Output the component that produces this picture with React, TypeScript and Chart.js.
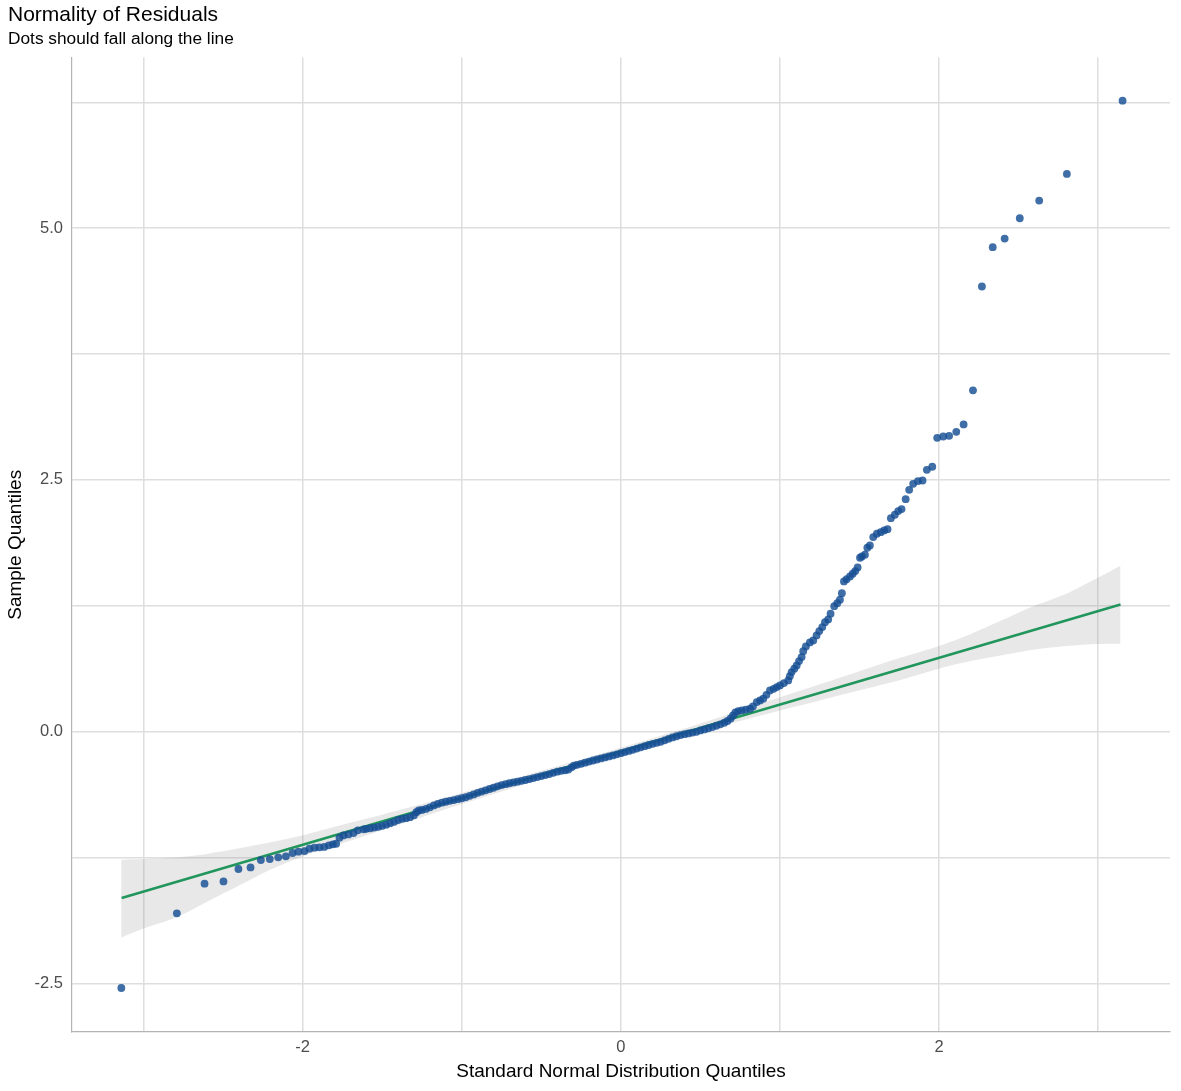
import React, { useEffect, useRef } from "react";
import { Chart, registerables } from "chart.js";

Chart.register(...registerables);

// theoretical quantiles (x) and sample quantiles (y) of the residuals
const sampleX = [
  -3.139, -2.79, -2.616, -2.497, -2.403, -2.327, -2.262, -2.206, -2.153, -2.105,
  -2.063, -2.026, -1.988, -1.957, -1.925, -1.894, -1.864, -1.835, -1.81, -1.789,
  -1.768, -1.743, -1.712, -1.68, -1.653, -1.617, -1.6, -1.575, -1.55, -1.525,
  -1.5, -1.475, -1.45, -1.425, -1.4, -1.375, -1.35, -1.325, -1.3, -1.285,
  -1.27, -1.25, -1.225, -1.2, -1.175, -1.15, -1.125, -1.1, -1.075, -1.05,
  -1.025, -1.0, -0.975, -0.95, -0.925, -0.9, -0.875, -0.85, -0.825, -0.8,
  -0.775, -0.75, -0.725, -0.7, -0.675, -0.65, -0.625, -0.6, -0.575, -0.55,
  -0.525, -0.5, -0.475, -0.45, -0.425, -0.4, -0.375, -0.35, -0.33, -0.31,
  -0.295, -0.275, -0.25, -0.225, -0.2, -0.175, -0.15, -0.125, -0.1, -0.075,
  -0.05, -0.025, 0.0, 0.025, 0.05, 0.075, 0.1, 0.125, 0.15, 0.175,
  0.2, 0.225, 0.25, 0.275, 0.3, 0.325, 0.35, 0.375, 0.4, 0.425,
  0.45, 0.475, 0.5, 0.525, 0.55, 0.575, 0.6, 0.625, 0.65, 0.67,
  0.69, 0.705, 0.72, 0.738, 0.76, 0.785, 0.812, 0.83, 0.854, 0.875,
  0.895, 0.915, 0.937, 0.96, 0.98, 1.0, 1.025, 1.052, 1.062, 1.073,
  1.09, 1.105, 1.12, 1.136, 1.146, 1.163, 1.188, 1.209, 1.23, 1.247,
  1.266, 1.283, 1.303, 1.318, 1.341, 1.36, 1.377, 1.389, 1.402, 1.419,
  1.44, 1.457, 1.473, 1.488, 1.503, 1.515, 1.534, 1.549, 1.565, 1.586,
  1.609, 1.633, 1.655, 1.676, 1.697, 1.722, 1.743, 1.764, 1.79, 1.812,
  1.837, 1.867, 1.896, 1.923, 1.957, 1.988, 2.026, 2.063, 2.108, 2.154,
  2.213, 2.269, 2.337, 2.412, 2.507, 2.629, 2.803, 3.153,
];
const sampleY = [
  -2.547, -1.805, -1.511, -1.488, -1.365, -1.349, -1.276, -1.266, -1.249, -1.239,
  -1.206, -1.193, -1.187, -1.163, -1.153, -1.15, -1.146, -1.13, -1.12, -1.114,
  -1.054, -1.031, -1.021, -1.008, -0.981, -0.971, -0.966, -0.96, -0.953, -0.946,
  -0.936, -0.925, -0.91, -0.896, -0.878, -0.866, -0.86, -0.85, -0.832, -0.8,
  -0.784, -0.778, -0.768, -0.752, -0.733, -0.718, -0.706, -0.697, -0.688, -0.68,
  -0.671, -0.662, -0.652, -0.638, -0.624, -0.608, -0.596, -0.583, -0.57, -0.558,
  -0.544, -0.531, -0.522, -0.513, -0.505, -0.497, -0.489, -0.481, -0.472, -0.462,
  -0.452, -0.442, -0.432, -0.422, -0.41, -0.398, -0.39, -0.384, -0.377, -0.355,
  -0.338, -0.33, -0.32, -0.309, -0.298, -0.287, -0.277, -0.267, -0.257, -0.247,
  -0.237, -0.226, -0.214, -0.203, -0.192, -0.181, -0.169, -0.156, -0.145, -0.133,
  -0.121, -0.112, -0.102, -0.087, -0.072, -0.058, -0.046, -0.035, -0.026, -0.018,
  -0.01, -0.002, 0.012, 0.022, 0.033, 0.045, 0.058, 0.072, 0.088, 0.105,
  0.13, 0.16, 0.19, 0.204, 0.21, 0.218, 0.227, 0.25, 0.293, 0.31,
  0.327, 0.365, 0.409, 0.425, 0.442, 0.459, 0.482, 0.508, 0.55, 0.591,
  0.625, 0.657, 0.7, 0.74, 0.799, 0.846, 0.886, 0.906, 0.955, 0.998,
  1.038, 1.087, 1.114, 1.171, 1.246, 1.276, 1.31, 1.375, 1.492, 1.514,
  1.541, 1.568, 1.594, 1.631, 1.727, 1.74, 1.757, 1.826, 1.849, 1.932,
  1.965, 1.981, 1.998, 2.011, 2.12, 2.154, 2.19, 2.21, 2.309, 2.402,
  2.461, 2.488, 2.494, 2.6, 2.631, 2.918, 2.931, 2.938, 2.978, 3.051,
  3.39, 4.421, 4.812, 4.897, 5.099, 5.275, 5.539, 6.267,
];

// reference line end points
const refLineX = [-3.137, 3.14];
const refLineY = [-1.653, 1.263];

// confidence band
const bandX = [
  -3.14, -3.0, -2.8, -2.6, -2.4, -2.2, -2.0, -1.75, -1.5, -1.25, -1.0, -0.5, 0,
  0.5, 1.0, 1.25, 1.5, 1.75, 2.0, 2.2, 2.4, 2.6, 2.8, 3.0, 3.14,
];
const bandUpper = [
  -1.272, -1.266, -1.25, -1.215, -1.16, -1.1, -1.03, -0.925, -0.825, -0.72, -0.61, -0.39, -0.16,
  0.08, 0.34, 0.47, 0.6, 0.73, 0.85, 0.97, 1.11, 1.25, 1.37, 1.53, 1.647,
];
const bandLower = [
  -2.047, -1.957, -1.85, -1.69, -1.53, -1.37, -1.24, -1.11, -0.98, -0.85, -0.72, -0.47, -0.235,
  0.0, 0.21, 0.31, 0.41, 0.51, 0.625, 0.7, 0.76, 0.815, 0.85, 0.87, 0.873,
];

const xLabelled = [-2, 0, 2];
const yLabelled = [-2.5, 0, 2.5, 5];

const pts = (xs: number[], ys: number[]) => xs.map((x, i) => ({ x, y: ys[i] }));

const FONT = "'Liberation Sans', Arial, sans-serif";

const QQChart: React.FC = () => {
  const chartRef = useRef<HTMLCanvasElement | null>(null);
  const chartInstance = useRef<Chart | null>(null);

  useEffect(() => {
    if (!chartRef.current) return;
    if (chartInstance.current) chartInstance.current.destroy();

    const ctx = chartRef.current.getContext("2d");
    if (!ctx) return;

    chartInstance.current = new Chart(ctx, {
      type: "line",
      data: {
        datasets: [
          {
            label: "residuals",
            data: pts(sampleX, sampleY),
            showLine: false,
            pointRadius: 3.9,
            pointBorderWidth: 0,
            pointBackgroundColor: "rgba(22, 78, 148, 0.82)",
          },
          {
            label: "line",
            data: pts(refLineX, refLineY),
            borderColor: "#21965c",
            borderWidth: 2.5,
            pointRadius: 0,
          },
          {
            label: "lower",
            data: pts(bandX, bandLower),
            borderWidth: 0,
            pointRadius: 0,
            tension: 0.3,
          },
          {
            label: "upper",
            data: pts(bandX, bandUpper),
            borderWidth: 0,
            pointRadius: 0,
            tension: 0.3,
            fill: "-1",
            backgroundColor: "rgba(150, 150, 150, 0.22)",
          },
        ],
      },
      options: {
        responsive: false,
        animation: false,
        events: [],
        layout: { padding: { left: 8, right: 11, top: 0, bottom: 0 } },
        plugins: {
          legend: { display: false },
          tooltip: { enabled: false },
          title: {
            display: true,
            text: "Normality of Residuals",
            align: "start",
            color: "#000",
            font: { family: FONT, size: 21, weight: "normal", lineHeight: 1.2 },
            padding: { top: 3, bottom: 0 },
          },
          subtitle: {
            display: true,
            text: "Dots should fall along the line",
            align: "start",
            color: "#000",
            font: { family: FONT, size: 17.3, weight: "normal", lineHeight: 1.15 },
            padding: { top: 1, bottom: 8.5 },
          },
        },
        scales: {
          x: {
            type: "linear",
            min: -3.449,
            max: 3.451,
            afterFit: (scale: any) => {
              scale.height = 59;
            },
            grid: { color: "#dedede", lineWidth: 1.5, drawTicks: false },
            border: { display: true, color: "#b3b3b3", width: 1.2 },
            ticks: {
              stepSize: 1,
              includeBounds: false,
              autoSkip: false,
              maxRotation: 0,
              padding: 6,
              color: "#4d4d4d",
              font: { family: FONT, size: 16.5 },
              callback: (value: any) => (xLabelled.includes(Number(value)) ? String(value) : ""),
            },
            title: {
              display: true,
              text: "Standard Normal Distribution Quantiles",
              color: "#000",
              font: { family: FONT, size: 19, lineHeight: 1.2 },
              padding: { top: 0, bottom: 8 },
            },
          },
          y: {
            type: "linear",
            min: -2.984,
            max: 6.695,
            afterFit: (scale: any) => {
              scale.width = 64;
            },
            grid: { color: "#dedede", lineWidth: 1.5, drawTicks: false },
            border: { display: true, color: "#b3b3b3", width: 1.2 },
            ticks: {
              stepSize: 1.25,
              includeBounds: false,
              autoSkip: false,
              padding: 9,
              color: "#4d4d4d",
              font: { family: FONT, size: 16.5 },
              callback: (value: any) =>
                yLabelled.includes(Number(value)) ? Number(value).toFixed(1) : "",
            },
            title: {
              display: true,
              text: "Sample Quantiles",
              color: "#000",
              font: { family: FONT, size: 19, lineHeight: 1 },
              padding: { top: -2, bottom: 0 },
            },
          },
        },
      },
    });

    return () => {
      if (chartInstance.current) {
        chartInstance.current.destroy();
        chartInstance.current = null;
      }
    };
  }, []);

  return (
    <div style={{ position: "absolute", left: 0, top: 0, width: 1181, height: 1091, background: "#fff" }}>
      <canvas ref={chartRef} width={1181} height={1091}></canvas>
    </div>
  );
};

export default function App() {
  return <QQChart />;
}
